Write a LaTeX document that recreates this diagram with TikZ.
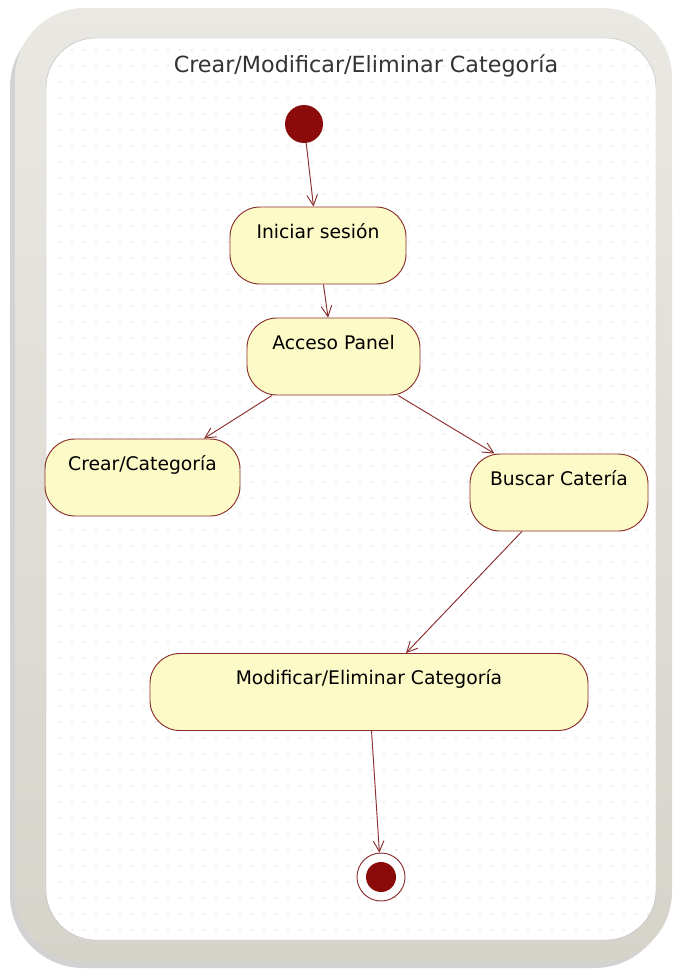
\documentclass[tikz,border=0pt]{standalone}
\usepackage{fontspec}
\setmainfont{DejaVu Sans}
\usetikzlibrary{arrows.meta}
\definecolor{framegray}{HTML}{D6D3CB}
\definecolor{framelight}{HTML}{EAE8E3}
\definecolor{statefill}{HTML}{FCFAC6}
\definecolor{stateline}{HTML}{8A2E2E}
\definecolor{dotred}{HTML}{8B0B0B}
\def\statefont{\fontsize{16}{18}\selectfont}

\begin{document}
\begin{tikzpicture}[x=0.03cm,y=-0.03cm,
  state/.style={draw=stateline, fill=statefill, thick, rounded corners=0.9cm,
    inner xsep=0pt, inner ysep=0pt, text height=0.93cm, text depth=1.38cm,
    font=\statefont, align=center},
  trans/.style={draw=stateline, thick, -{Straight Barb[length=3.2mm,width=3.2mm]}}]
\useasboundingbox (0,0) rectangle (681,972);
% frame
\fill[black!35, opacity=0.5, rounded corners=2.2cm] (10,14) rectangle (668,968);
\shade[top color=framelight, bottom color=framegray, rounded corners=2.1cm] (15,8) rectangle (672,962);
\fill[white, draw=gray!50, rounded corners=1.5cm] (46,38) rectangle (656,940);
\begin{scope}
\clip[rounded corners=1.5cm] (46,38) rectangle (656,940);
\foreach \x in {60,72,...,650}
  \foreach \y in {50,66,...,935}
    \fill[gray!60] (\x,\y) circle (0.6pt);
\end{scope}
\node (title) at (366,66) [text=black!80] {\fontsize{19}{22}\selectfont Crear/Modificar/Eliminar Categoría};
% states
\node (start) at (304,124) [circle, fill=dotred, inner sep=0pt, minimum size=1.14cm] {};
\node (login) at (318,245.5) [state, minimum width=5.28cm] {Iniciar sesión};
\node (panel) at (333.5,356.5) [state, minimum width=5.19cm] {Acceso Panel};
\node (create) at (142.5,477.5) [state, minimum width=5.85cm] {Crear/Categoría};
\node (search) at (559,492.5) [state, minimum width=5.34cm] {Buscar Catería};
\node (modify) at (369,692) [state, minimum width=13.14cm] {Modificar/Eliminar Categoría};
\node (stop) at (381,877) [circle, draw=stateline, thick, fill=white, inner sep=0pt, minimum size=1.44cm] {};
\node (stopin) at (stop) [circle, fill=dotred, inner sep=0pt, minimum size=0.9cm] {};
% transitions
\draw[trans] (start) -- (login);
\draw[trans] (login) -- (panel);
\draw[trans] (panel) -- (create);
\draw[trans] (panel) -- (search);
\draw[trans] (search) -- (modify);
\draw[trans] (modify) -- (stop);
\end{tikzpicture}
\end{document}
